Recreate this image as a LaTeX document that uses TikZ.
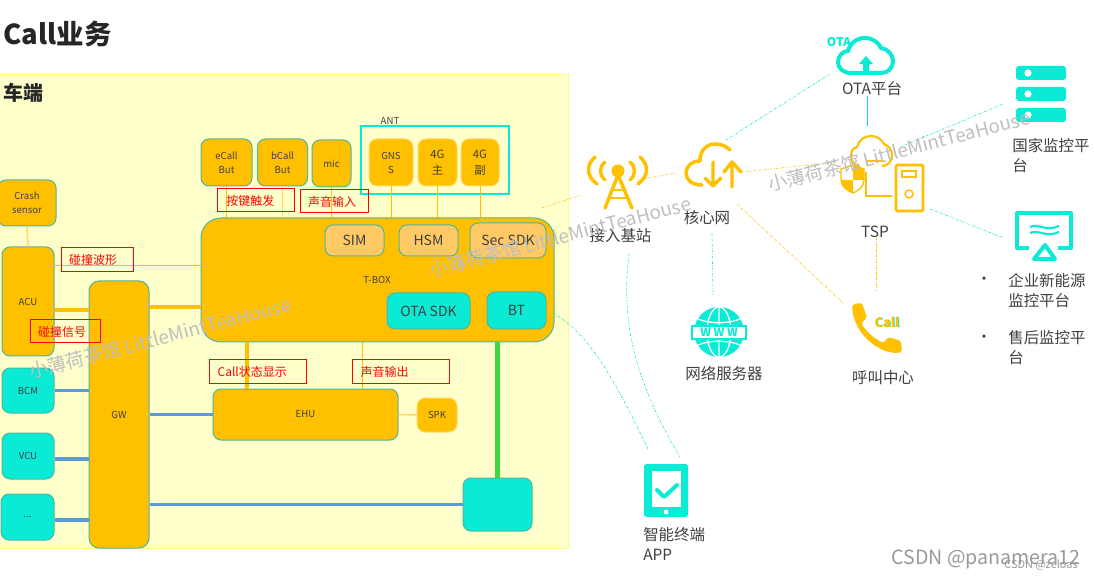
\documentclass[tikz,border=0pt]{standalone}
\usepackage{fontspec}
\setmainfont{Noto Sans CJK SC}
\definecolor{gold}{HTML}{FFC000}
\definecolor{lightgold}{HTML}{FFC966}
\definecolor{paleline}{HTML}{FFD966}
\definecolor{tealline}{HTML}{4DB6A0}
\definecolor{cyanfill}{HTML}{0AEBD5}
\definecolor{cyanline}{HTML}{0AE8D0}
\definecolor{bluelink}{HTML}{5B9BD5}
\definecolor{greenlink}{HTML}{40D840}
\definecolor{panelfill}{HTML}{FFFFCC}
\definecolor{inktext}{HTML}{404040}
\definecolor{markgray}{HTML}{BFBFBF}
\newcommand{\fpx}[2]{\fontsize{#1}{#2}\selectfont}
\tikzset{
  sz/.style 2 args={minimum width=#1*0.75pt,minimum height=#2*0.75pt},
  box/.style={draw=tealline,line width=0.75pt,fill=gold,rounded corners=6pt,inner sep=0pt,align=center,text=inktext,font=\fpx{7.2}{10.5}},
  antbox/.style={box,draw=paleline},
  subbox/.style={box,fill=lightgold,font=\fpx{10.5}{13}},
  cyanbox/.style={box,fill=cyanfill,font=\fpx{10.5}{13}},
  redtag/.style n args={3}{draw=red,line width=0.75pt,text=red,inner sep=0pt,text width=#1*0.75pt,minimum height=#2*0.75pt,align=left,font=\fpx{9}{11},execute at begin node={\hspace*{#3pt}}},
  label/.style={text=inktext,inner sep=0pt,font=\fpx{11.6}{15}},
  thinlink/.style={gold,line width=0.75pt},
  palelink/.style={paleline,line width=1.2pt},
  thicklink/.style={gold,line width=3pt},
  buslink/.style={bluelink,line width=2.6pt},
  orangedash/.style={gold,line width=0.45pt,dash pattern=on 1.6pt off 1.1pt on 0.5pt off 1.1pt},
  cyandash/.style={cyanline,line width=0.45pt,dash pattern=on 1.6pt off 1.1pt on 0.5pt off 1.1pt},
  goldicon/.style={gold,line width=2.6pt,line cap=round,line join=round},
  cyanicon/.style={cyanfill,line width=3pt,line cap=round,line join=round},
  watermark/.style={text=markgray,inner sep=0pt,rotate=14.5,font=\fpx{14.2}{16}}
}
\begin{document}
\begin{tikzpicture}[x=0.75pt,y=-0.75pt]
\useasboundingbox (0,0) rectangle (1094,580);

%标题和车端底色
\fill[white] (0,0) rectangle (1094,580);
\draw[fill=panelfill,draw=yellow!35!panelfill,line width=0.6pt] (-2,74) rectangle (568,548);
\node[inner sep=0pt,text=black!85,font=\fpx{20.6}{26}\bfseries] (title) at (57.5,34) {Call业务};
\node[inner sep=0pt,text=black!85,font=\fpx{15}{18}\bfseries] (cheduan) at (23.5,93) {车端};

%车端的方框
\node[box,sz={58}{46}] (crash) at (27,203) {Crash\\sensor};
\node[box,sz={52}{109}] (acu) at (28,301.5) {ACU};
\node[box,sz={60}{267},rounded corners=7.5pt] (gw) at (119,414.5) {GW};
\node[box,sz={353}{124},rounded corners=15pt] (tbox) at (377.5,280) {};
\node[text=inktext,inner sep=0pt,font=\fpx{7.2}{9}] (tboxname) at (377,280) {T-BOX};
\node[box,sz={51}{47}] (ecall) at (226.5,162.5) {eCall\\But};
\node[box,sz={50}{47}] (bcall) at (282.5,162.5) {bCall\\But};
\node[box,sz={39}{47}] (mic) at (331.5,163.5) {mic};
\draw[cyanfill,line width=0.9pt] (361,126) rectangle (509,194);
\node[text=inktext,inner sep=0pt,font=\fpx{7.2}{9}] (antname) at (390,121) {ANT};
\node[antbox,sz={44}{47}] (gnss) at (391,162.5) {GNS\\S};
\node[antbox,sz={39}{47},font=\fpx{8.5}{12}] (zhu) at (437.5,162.5) {4G\\主};
\node[antbox,sz={38}{47},font=\fpx{8.5}{12}] (fu) at (480,162.5) {4G\\副};
\node[subbox,sz={59}{31}] (sim) at (354.5,240.5) {SIM};
\node[subbox,sz={59}{31}] (hsm) at (428.5,240.5) {HSM};
\node[subbox,sz={76}{35}] (sec) at (508,240.5) {Sec SDK};
\node[cyanbox,sz={83}{36}] (otasdk) at (428.5,311) {OTA SDK};
\node[cyanbox,sz={59}{37}] (bt) at (516.5,310.5) {BT};
\node[box,sz={185}{51}] (ehu) at (305.5,414.5) {EHU};
\node[box,draw=paleline,sz={40}{34}] (spk) at (437,415) {SPK};
\node[cyanbox,sz={52}{45},font=\fpx{7.2}{10}] (bcm) at (28,390.5) {BCM};
\node[cyanbox,sz={52}{46},font=\fpx{7.2}{10}] (vcu) at (28,456) {VCU};
\node[cyanbox,sz={53}{46},font=\fpx{7.2}{10}] (more) at (27.5,517) {...};
\node[cyanbox,sz={69}{53}] (nad) at (497.5,504.5) {};

%车端的连线
\draw[palelink] (crash.south) -- (acu.north);
\draw[thinlink] ([yshift=10.5pt]tbox.west) -- ([yshift=10.5pt]tbox.west -| acu.east);
\draw[thicklink] ([yshift=-6.4pt]acu.east) -- ([yshift=-6.4pt]acu.east -| gw.west);
\draw[thicklink] ([yshift=-20.25pt]tbox.west) -- ([yshift=-20.25pt]tbox.west -| gw.east);
\draw[thinlink] (ecall.south) -- (ecall.south |- tbox.north);
\draw[palelink] (bcall.south) -- (bcall.south |- tbox.north);
\draw[thinlink] (mic.south) -- (mic.south |- tbox.north);
\draw[thinlink] (gnss.south) -- (gnss.south |- tbox.north);
\draw[thinlink] (zhu.south) -- (zhu.south |- tbox.north);
\draw[thinlink] (fu.south) -- (fu.south |- tbox.north);
\draw[thicklink] ([xshift=-43.9pt]ehu.north) -- ([xshift=-43.9pt]ehu.north |- tbox.south);
\draw[thinlink] ([xshift=43.1pt]ehu.north) -- ([xshift=43.1pt]ehu.north |- tbox.south);
\draw[palelink] (ehu.east) -- (spk.west);
\draw[buslink] (bcm.east) -- (bcm.east -| gw.west);
\draw[buslink] ([yshift=-2.25pt]vcu.east) -- ([yshift=-2.25pt]vcu.east -| gw.west);
\draw[buslink] ([yshift=-2.25pt]more.east) -- ([yshift=-2.25pt]more.east -| gw.west);
\draw[buslink] (gw.east |- ehu.west) -- (ehu.west);
\draw[buslink] (gw.east |- nad.west) -- (nad.west);
\draw[greenlink,line width=3.8pt] (nad.north) -- (nad.north |- tbox.south);

%红色标注
\node[redtag={77}{23}{7}] (anjian) at (255.5,200.5) {按键触发};
\node[redtag={68}{23}{6}] (shengru) at (334,201.5) {声音输入};
\node[redtag={72}{24}{6}] (boxing) at (97,260) {碰撞波形};
\node[redtag={70}{23}{6}] (xinhao) at (65,331.5) {碰撞信号};
\node[redtag={97}{23}{6.5}] (zhuangtai) at (257.5,371.5) {Call状态显示};
\node[redtag={97}{23}{6.5}] (shengchu) at (400.5,371.5) {声音输出};

%接入基站图标
\fill[gold] (618,171) circle (6.5);
\draw[goldicon] (605,208) -- (618,175) -- (632,208);
\draw[gold,line width=2.2pt] (612,190) -- (625,190) (609,198) -- (627,198);
\draw[goldicon] (595,157) .. controls (586,165) and (586,176) .. (597,184);
\draw[goldicon] (605,162) .. controls (599,167) and (599,175) .. (605,180);
\draw[goldicon] (630,162) .. controls (636,167) and (636,175) .. (630,180);
\draw[goldicon] (640,157) .. controls (649,165) and (649,176) .. (638,184);
\node[label] (jizhan) at (620.5,236) {接入基站};

%核心网图标
\draw[goldicon] (730,150) .. controls (726,146) and (721,144) .. (715,144) .. controls (706,144) and (700,151) .. (700,161) .. controls (692,161) and (686,166) .. (686,173) .. controls (686,180) and (692,185) .. (702,185);
\draw[goldicon] (713,162) -- (713,186) (705,178) -- (713,186) -- (721,178);
\draw[goldicon] (732,187) -- (732,162) (724,172) -- (732,162) -- (741,172);
\node[label] (hexin) at (707,218) {核心网};

%OTA平台图标
\draw[cyanicon] (851,73) .. controls (843,73) and (838,68) .. (838,62) .. controls (838,56) and (843,51) .. (848,51) .. controls (850,43) and (857,38) .. (865,38) .. controls (873,38) and (879,43) .. (881,48) .. controls (888,49) and (893,55) .. (893,61) .. controls (893,68) and (888,73) .. (881,73) -- cycle;
\fill[cyanfill] (866,56) -- (873,64) -- (869,64) -- (869,73) -- (863,73) -- (863,64) -- (859,64) -- cycle;
\node[inner sep=0pt,text=cyanfill,font=\fpx{9}{10}\bfseries] (otamark) at (839,42) {OTA};
\node[label] (otaplat) at (872,89) {OTA平台};

%TSP图标
\draw[gold,line width=1.6pt,line join=round] (860,166) .. controls (854,166) and (851,161) .. (851,156) .. controls (851,151) and (853,148) .. (857,147) .. controls (859,140) and (864,136) .. (871,136) .. controls (877,136) and (882,140) .. (884,144) .. controls (889,146) and (892,150) .. (892,155) .. controls (892,161) and (888,166) .. (882,166);
\draw[gold,line width=1pt] (867,161) -- (883,161);
\draw[gold,fill=white,line width=1pt] (841,169) -- (853,165) -- (864,169) -- (864,180) .. controls (864,187) and (858,191) .. (853,193) .. controls (848,191) and (841,187) .. (841,180) -- cycle;
\fill[gold] (853,165) -- (864,169) -- (864,180) -- (853,180) -- cycle;
\fill[gold] (841,180) -- (853,180) -- (853,193) .. controls (848,191) and (841,187) .. (841,180) -- cycle;
\draw[gold,line width=2pt] (866,172) -- (866,196) -- (892,196);
\draw[gold,line width=2.2pt,rounded corners=1pt] (896,165) rectangle (923,211);
\draw[gold,line width=1.1pt] (902,171) rectangle (916,177);
\draw[gold,line width=1.1pt] (909,194) circle (4);
\node[label] (tsp) at (875,232) {TSP};

%国家监控平台图标
\fill[cyanfill,rounded corners=2.2pt] (1016,66) rectangle (1066,80);
\fill[cyanfill,rounded corners=2.2pt] (1016,87) rectangle (1066,101);
\fill[cyanfill,rounded corners=2.2pt] (1016,108) rectangle (1066,122);
\fill[white] (1028,73) circle (3.6) (1028,94) circle (3.6) (1028,115) circle (3.6);
\node[label,anchor=north west,align=left] (guojia) at (1012,138) {国家监控平\\台};

%企业监控平台图标
\draw[cyanicon,line cap=butt] (1029,248) -- (1017,248) -- (1017,213) -- (1071,213) -- (1071,248) -- (1058,248);
\draw[cyanfill,line width=1.6pt] (1030,227) .. controls (1038,223) and (1046,232) .. (1059,226);
\draw[cyanfill,line width=1.6pt] (1030,233) .. controls (1038,229) and (1046,238) .. (1059,232);
\draw[cyanicon,fill=white] (1045,245) -- (1055,259) -- (1034,259) -- cycle;
\node[label] (dotone) at (984,281) {•};
\node[label,anchor=north west,align=left] (qiye) at (1008,273) {企业新能源\\监控平台};
\node[label] (dottwo) at (984,339) {•};
\node[label,anchor=north west,align=left] (shouhou) at (1008,330) {售后监控平\\台};

%网络服务器图标
\fill[cyanfill] (719,332) circle (25);
\draw[white,line width=1pt] (719,307) -- (719,357) (719,332) ellipse (12 and 25);
\draw[white,line width=1pt] (698,319) .. controls (710,324) and (728,324) .. (740,319);
\draw[white,line width=1pt] (698,345) .. controls (710,340) and (728,340) .. (740,345);
\draw[cyanfill,fill=white,line width=1.6pt] (692,326) rectangle (746,339);
\node[inner sep=0pt,text=cyanfill,font=\fpx{8.6}{9}\bfseries] (www) at (719,332.5) {W W W};
\node[label] (wangluo) at (724,374) {网络服务器};

%呼叫中心图标
\fill[gold,rounded corners=1.5pt] (853,304) -- (862,303) -- (867,318) -- (861,323) .. controls (866,331) and (874,339) .. (884,343) -- (888,337) -- (901,341) -- (902,352) -- (898,353) .. controls (875,352) and (855,332) .. (852,308) -- cycle;
\node[inner sep=0pt,text=cyanfill,font=\fpx{9.6}{10}\bfseries] (callshadow) at (887.6,322.4) {Call};
\node[inner sep=0pt,text=gold,font=\fpx{9.6}{10}\bfseries] (callmark) at (887,322) {Call};
\node[label] (hujiao) at (883,378) {呼叫中心};

%智能终端图标
\fill[cyanfill,rounded corners=2pt] (644,464) rectangle (688,517);
\fill[white] (652,471) rectangle (681,507);
\fill[white] (666,512) circle (2.5);
\draw[cyanicon] (657,490) -- (664,497) -- (677,485);
\node[label,anchor=north west,align=left] (zhongduan) at (643,527.5) {智能终端\\APP};

%右边的连线
\coordinate (tboxout) at (542,208);
\coordinate (jizhanin) at (581,195);
\coordinate (jizhanout) at (637,180);
\coordinate (hexinin) at (676,173);
\coordinate (hexinout) at (742,172);
\coordinate (tspin) at (838,162);
\coordinate (hexindown) at (737,204);
\coordinate (hujiaoin) at (843,303);
\coordinate (tspdown) at (876,238);
\coordinate (hujiaoup) at (876,290);
\coordinate (hexinup) at (726,140);
\coordinate (otain) at (830,74);
\coordinate (otadown) at (867,96);
\coordinate (tspup) at (867,126);
\coordinate (tspright) at (905,145);
\coordinate (guojiain) at (1003,104);
\coordinate (tspout) at (930,209);
\coordinate (qiyein) at (1004,238);
\coordinate (hexinlow) at (712,233);
\coordinate (wangluoin) at (713,295);
\coordinate (jizhanlow) at (629,254);
\coordinate (appone) at (680,457);
\coordinate (btout) at (553,313);
\coordinate (apptwo) at (648,449);
\draw[orangedash] (tboxout) -- (jizhanin);
\draw[orangedash] (jizhanout) -- (hexinin);
\draw[orangedash] (hexinout) -- (tspin);
\draw[orangedash] (hexindown) -- (hujiaoin);
\draw[orangedash] (tspdown) -- (hujiaoup);
\draw[cyandash] (hexinup) -- (otain);
\draw[cyanline,line width=0.6pt] (otadown) -- (tspup);
\draw[cyandash] (tspright) -- (guojiain);
\draw[cyandash] (tspout) -- (qiyein);
\draw[cyandash] (hexinlow) -- (wangluoin);
\draw[cyandash] (jizhanlow) .. controls (622,310) and (628,370) .. (appone);
\draw[cyandash] (btout) .. controls (590,335) and (612,375) .. (apptwo);

%水印
\node[watermark] (markone) at (160,338) {小薄荷茶馆 LittleMintTeaHouse};
\node[watermark] (marktwo) at (560,237) {小薄荷茶馆 LittleMintTeaHouse};
\node[watermark] (markthree) at (899,151) {小薄荷茶馆 LittleMintTeaHouse};
\node[inner sep=0pt,text=black!40,font=\fpx{14.7}{16}] (csdnbig) at (986,559) {CSDN @panamera12};
\node[inner sep=0pt,text=black!40,font=\fpx{8.2}{9}] (csdnsmall) at (1041,565) {CSDN @zeloas};
\end{tikzpicture}
\end{document}
